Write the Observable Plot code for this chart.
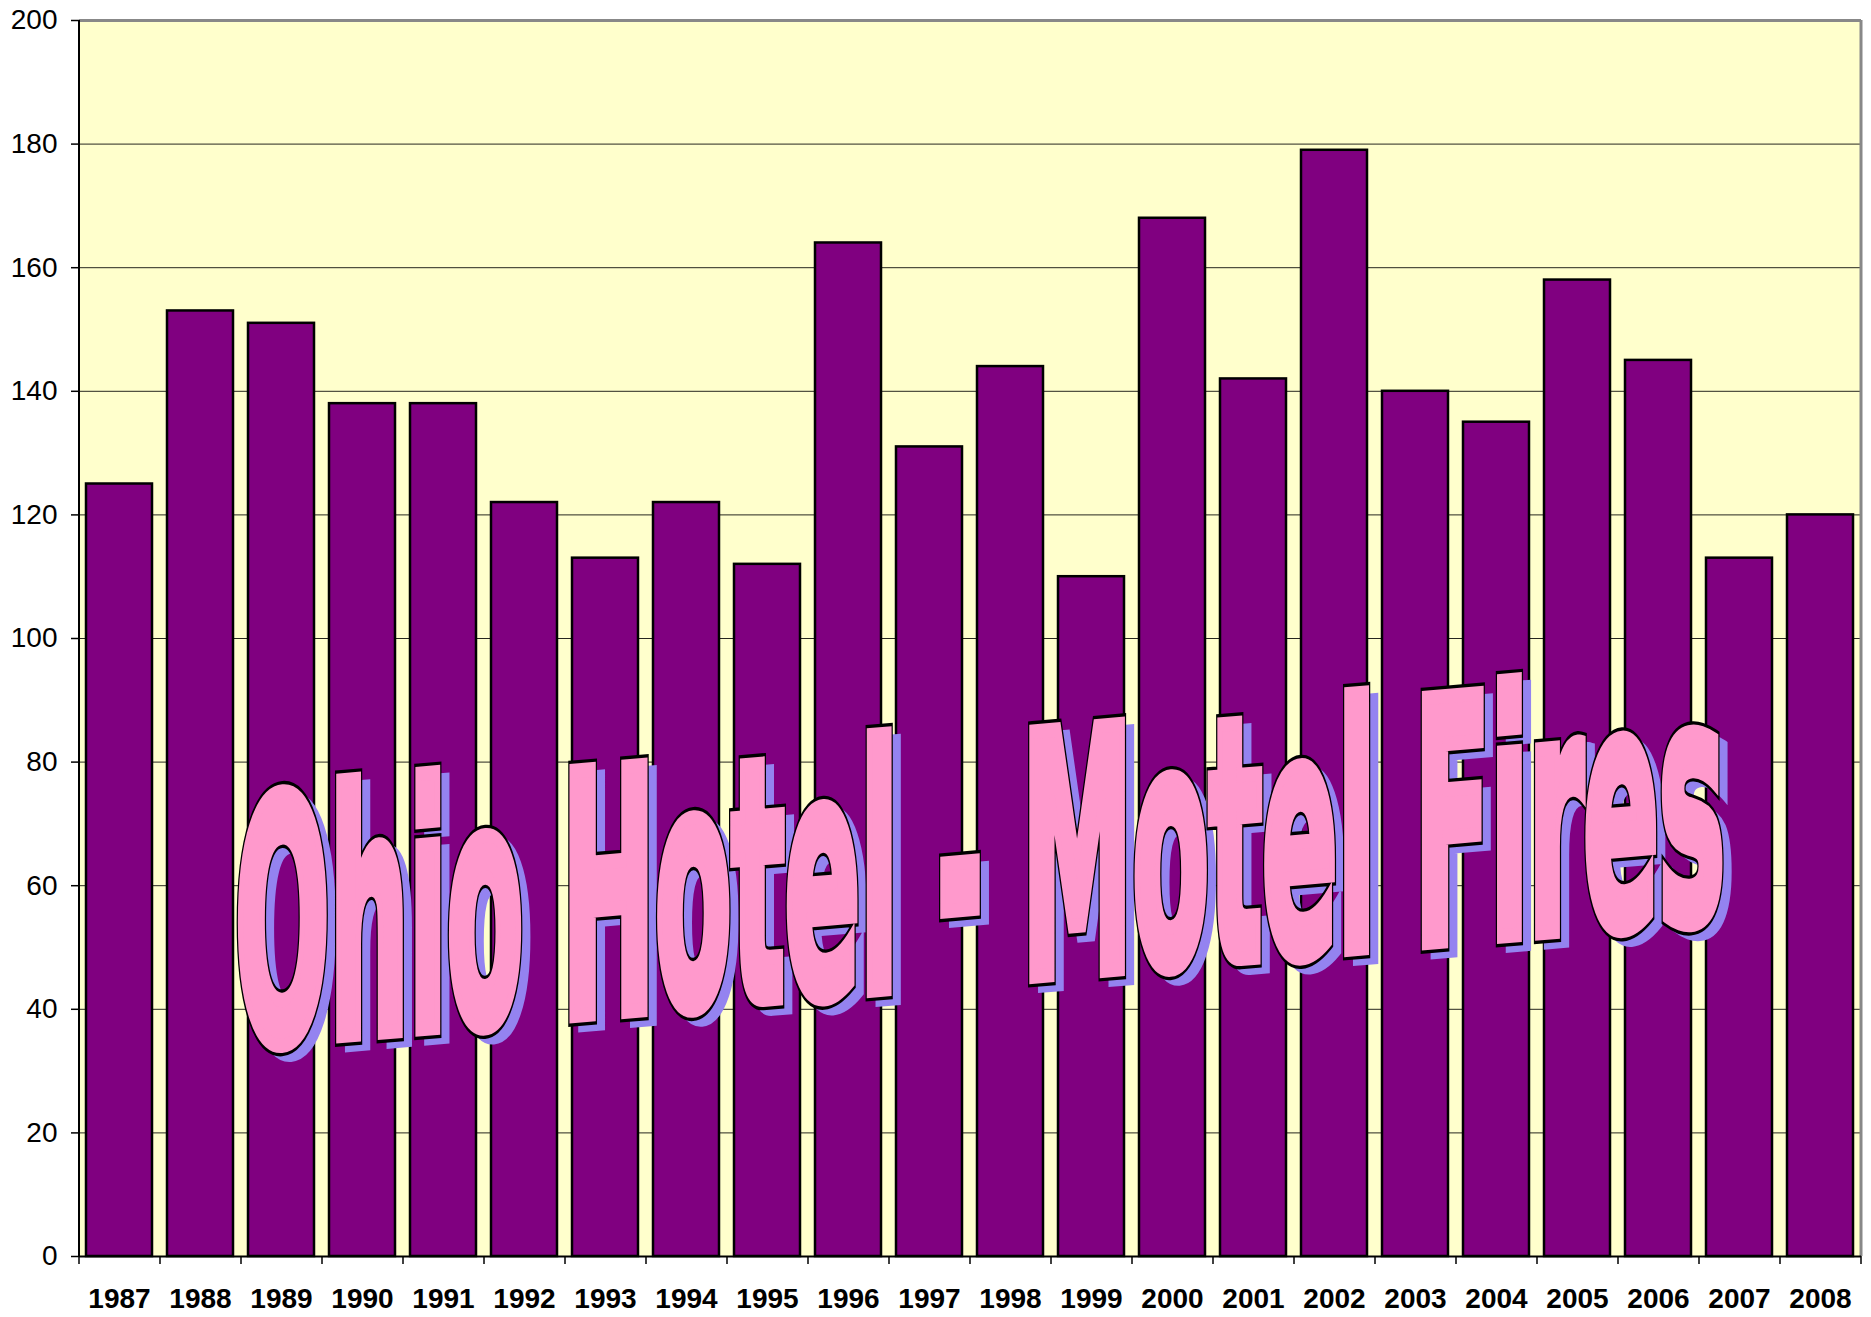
<!DOCTYPE html>
<html>
<head>
<meta charset="utf-8">
<script src="https://cdn.jsdelivr.net/npm/d3@7"></script>
<script src="https://cdn.jsdelivr.net/npm/@observablehq/plot@0.6"></script>
<style>
  html, body { margin: 0; padding: 0; background: #fff; }
  #chart { position: relative; width: 1871px; height: 1317px; }
</style>
</head>
<body>
<div id="chart"></div>
<script>
const years = ["1987","1988","1989","1990","1991","1992","1993","1994","1995","1996","1997","1998","1999","2000","2001","2002","2003","2004","2005","2006","2007","2008"];
const fires = [125,153,151,138,138,122,113,122,112,164,131,144,110,168,142,179,140,135,158,145,113,120];
const yTicks = [0,20,40,60,80,100,120,140,160,180,200];
const gridTicks = [20,40,60,80,100,120,140,160,180];
const titleText = "Ohio Hotel - Motel Fires";

const data = years.map((year, i) => ({year, value: fires[i]}));

const W = 1871, H = 1317;
const mL = 79, mR = 10, mT = 20, mB = 61;
const plotW = W - mL - mR, plotH = H - mT - mB;
const step = plotW / years.length;

const chart = Plot.plot({
  width: W,
  height: H,
  marginLeft: mL,
  marginRight: mR,
  marginTop: mT,
  marginBottom: mB,
  style: {fontFamily: "'Liberation Sans', Arial, sans-serif", fontSize: "28px", color: "#000", background: "#fff"},
  x: {domain: years, paddingInner: 0.185, paddingOuter: 0.0925, label: null},
  y: {domain: [0, 200], label: null},
  marks: [
    Plot.frame({fill: "#FFFFCC", stroke: null}),
    Plot.gridY(gridTicks, {stroke: "#000", strokeOpacity: 0.85, strokeWidth: 1}),
    Plot.barY(data, {x: "year", y: "value", fill: "#800080", stroke: "#000", strokeWidth: 2.5}),
    Plot.ruleY([200], {stroke: "#888", strokeWidth: 3}),
    Plot.ruleX([years[years.length - 1]], {x: d => d, dx: step / 2, stroke: "#888", strokeWidth: 3}),
    Plot.ruleX([years[0]], {x: d => d, dx: -step / 2, stroke: "#000", strokeWidth: 2}),
    Plot.ruleY([0], {stroke: "#000", strokeWidth: 2}),
    Plot.ruleX(years, {x: d => d, dx: -step / 2, insetTop: plotH, insetBottom: -8, stroke: "#000", strokeWidth: 1.5}),
    Plot.ruleX([years[years.length - 1]], {x: d => d, dx: step / 2, insetTop: plotH, insetBottom: -8, stroke: "#000", strokeWidth: 1.5}),
    Plot.axisY({ticks: yTicks, tickSize: 8, tickPadding: 14, fontSize: 28, stroke: "#000", strokeWidth: 1.5, fill: "#000"}),
    Plot.axisX({tickSize: 0, tickPadding: 32, fontSize: 28, fontWeight: "bold", fill: "#000"})
  ]
});

document.getElementById("chart").appendChild(chart);

// WordArt-like title overlay (upright letters on a sloping baseline)
const svg = d3.select(chart);
const g = svg.append("g").attr("transform", "translate(235,1045) skewY(-4.9)");
const fs = 336, targetWidth = 1490;
const fontFam = "'Liberation Sans Narrow', 'DejaVu Sans Condensed', 'Liberation Sans', sans-serif";

// measure natural width
const probe = g.append("text")
  .attr("font-family", fontFam).attr("font-weight", "bold").attr("font-size", fs)
  .attr("text-anchor", "start").text(titleText);
const natural = probe.node().getComputedTextLength() || 1;
probe.remove();
const sx = targetWidth / natural;

function layer(dx, dy) {
  const wrap = g.append("g").attr("transform", `translate(${dx},${dy}) scale(${sx},1)`);
  return wrap.append("text")
    .attr("x", 0).attr("y", 0)
    .attr("text-anchor", "start")
    .attr("font-family", fontFam)
    .attr("font-weight", "bold")
    .attr("font-size", fs)
    .attr("vector-effect", "non-scaling-stroke")
    .attr("stroke-linejoin", "miter")
    .text(titleText);
}
layer(9, 9).attr("fill", "#9483F0").attr("stroke", "#9483F0").attr("stroke-width", 12);
layer(0, 0).attr("fill", "#000").attr("stroke", "#000").attr("stroke-width", 16);
layer(0, 0).attr("fill", "#FF99CC").attr("stroke", "#FF99CC").attr("stroke-width", 11);
</script>
</body>
</html>
